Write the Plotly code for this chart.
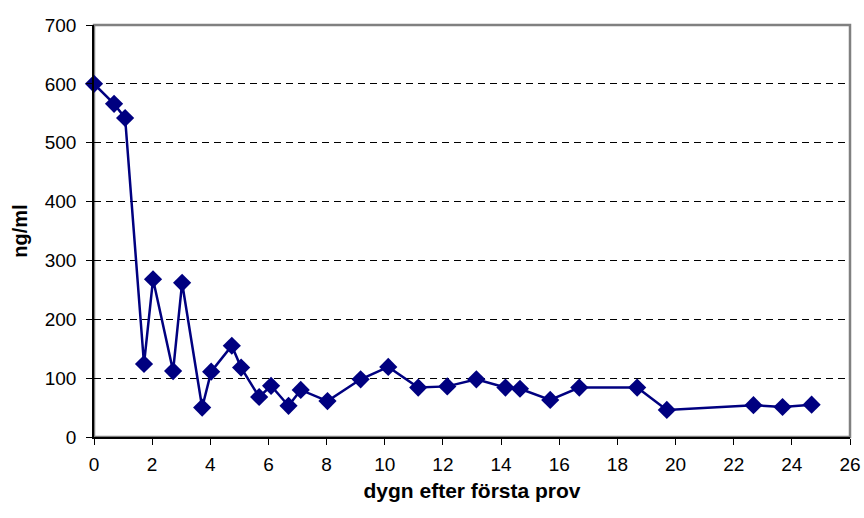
import plotly.graph_objects as go

# Days after first sample
days = [0.0, 0.69, 1.07, 1.72, 2.03, 2.72, 3.03, 3.72, 4.03, 4.74, 5.06,
        5.68, 6.09, 6.69, 7.11, 8.03, 9.17, 10.12, 11.15, 12.15, 13.15,
        14.15, 14.65, 15.69, 16.69, 18.68, 19.70, 22.68, 23.68, 24.68]
# Concentration, ng/ml
conc = [600, 566, 542, 124, 268, 112, 262, 50, 111, 155, 118,
        68, 87, 53, 80, 61, 98, 119, 84, 86, 98,
        84, 82, 63, 84, 84, 46, 54, 51, 55]

x_ticks = list(range(0, 27, 2))
y_ticks = list(range(0, 701, 100))

NAVY = "#000080"
FONT = "Liberation Sans, Arial, sans-serif"

fig = go.Figure()
fig.add_trace(go.Scatter(
    x=days, y=conc, mode="lines+markers",
    line=dict(color=NAVY, width=2.5),
    marker=dict(symbol="diamond", size=14, color=NAVY),
    showlegend=False, cliponaxis=False,
))

# plot-area frame (grey top/right edges)
fig.add_shape(type="rect", xref="paper", yref="paper", x0=0, y0=0, x1=1, y1=1,
              line=dict(color="#808080", width=2.5), layer="below")

fig.update_layout(
    width=864, height=518,
    margin=dict(l=94, r=14, t=25, b=81),
    paper_bgcolor="white", plot_bgcolor="white",
    font=dict(family=FONT, size=19, color="black"),
    xaxis=dict(
        range=[0, 26], tickvals=x_ticks, ticktext=[str(v) for v in x_ticks],
        showgrid=False, zeroline=False, automargin=False,
        showline=True, linecolor="black", linewidth=1.5,
        ticks="outside", ticklen=6, tickcolor="black", tickwidth=1,
        tickfont=dict(size=19), ticklabelstandoff=3,
        title=dict(text="<b>dygn efter första prov</b>", font=dict(size=21), standoff=10),
    ),
    yaxis=dict(
        range=[0, 700], tickvals=y_ticks, ticktext=[str(v) for v in y_ticks],
        showgrid=True, gridcolor="black", gridwidth=1, griddash="7px,5px",
        zeroline=False, automargin=False,
        showline=True, linecolor="black", linewidth=1.5,
        ticks="outside", ticklen=6, tickcolor="black", tickwidth=1,
        tickfont=dict(size=19), ticklabelstandoff=6,
        title=dict(text="<b>ng/ml</b>", font=dict(size=20), standoff=12),
    ),
)

fig.write_html("out.html")
